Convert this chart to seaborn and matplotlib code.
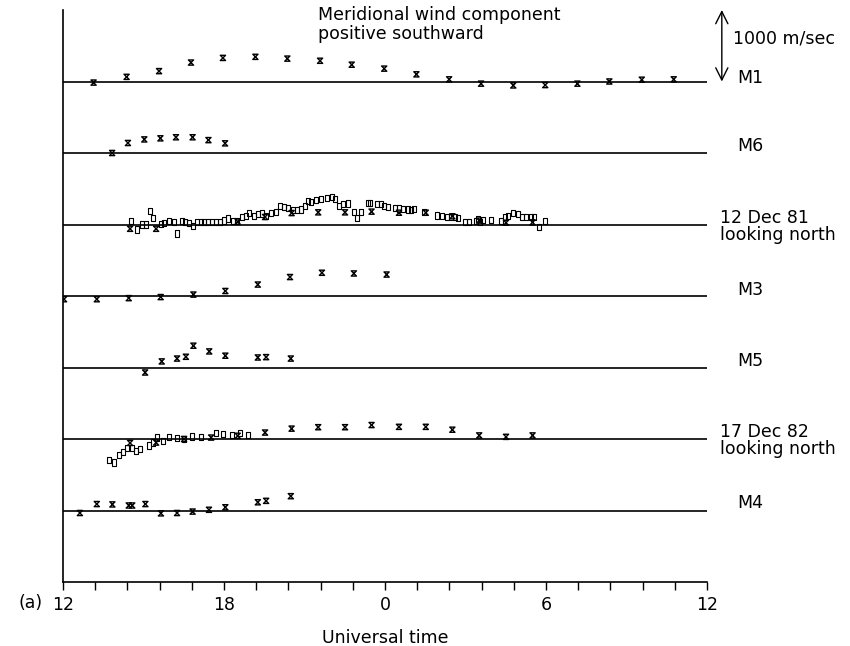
import numpy as np
import pandas as pd
import matplotlib
matplotlib.use("Agg")
import matplotlib.pyplot as plt
from matplotlib.path import Path
import seaborn as sns

# ---- data: universal time (hours, continuing past 24) and meridional wind (m/s, + southward)
m1_t = [13.14, 14.37, 15.58, 16.77, 17.96, 19.17, 20.36, 21.58, 22.76, 23.97,
        25.17, 26.39, 27.58, 28.78, 29.97, 31.17, 32.36, 33.57, 34.76]
m1_v = [-15, 65, 145, 265, 330, 345, 320, 290, 235, 180,
        100, 30, -30, -55, -50, -30, 0, 25, 30]

m6_t = [13.83, 14.42, 15.03, 15.63, 16.21, 16.83, 17.42, 18.04]
m6_v = [0, 140, 190, 205, 220, 220, 180, 135]

dec81_sq_t = [14.53, 14.76, 14.96, 15.10, 15.23, 15.35, 15.64, 15.78, 15.94, 16.14,
              16.25, 16.45, 16.55, 16.70, 16.86, 16.98, 17.13, 17.25, 17.40, 17.55,
              17.70, 17.85, 17.99, 18.14, 18.34, 18.47, 18.67, 18.81, 18.94, 19.12,
              19.27, 19.40, 19.58, 19.75, 19.94, 20.10, 20.24, 20.40, 20.57, 20.73,
              20.88, 21.02, 21.12, 21.25, 21.44, 21.60, 21.83, 22.01, 22.14, 22.27,
              22.45, 22.62, 22.84, 22.95, 23.12, 23.36, 23.45, 23.71, 23.84, 23.96,
              24.11, 24.36, 24.52, 24.66, 24.85, 24.97, 25.08, 25.44, 25.94, 26.12,
              26.32, 26.45, 26.62, 26.73, 26.99, 27.14, 27.38, 27.48, 27.55, 27.66,
              27.95, 28.32, 28.47, 28.57, 28.76, 28.96, 29.11, 29.26, 29.45, 29.55,
              29.74, 29.96]
dec81_sq_v = [50, -70, 0, 0, 190, 90, 10, 20, 50, 30,
              -125, 50, 30, 20, -20, 30, 40, 30, 40, 35,
              30, 40, 55, 85, 50, 50, 110, 120, 160, 120,
              150, 155, 120, 160, 180, 260, 240, 230, 205, 200,
              210, 260, 330, 320, 340, 355, 370, 390, 355, 255,
              290, 295, 175, 90, 180, 300, 305, 290, 290, 260,
              240, 230, 225, 220, 210, 200, 220, 170, 125, 120,
              100, 110, 100, 95, 40, 40, 45, 80, 40, 60,
              60, 50, 110, 115, 160, 150, 110, 100, 110, 110,
              -40, 50]

dec81_x_t = [14.50, 15.47, 18.51, 19.53, 20.52, 21.51, 22.51, 23.50,
             24.52, 25.52, 26.51, 27.51, 28.51, 29.50]
dec81_x_v = [-60, -60, 40, 105, 160, 170, 170, 180,
             165, 165, 115, 55, 25, 30]

m3_t = [12.04, 13.26, 14.45, 15.64, 16.86, 18.05, 19.26, 20.46, 21.65, 22.84, 24.06]
m3_v = [-45, -45, -30, -15, 20, 70, 160, 265, 325, 315, 300]

m5_t = [15.06, 15.68, 16.25, 16.58, 16.86, 17.45, 18.05, 19.26, 19.57, 20.49]
m5_v = [-70, 85, 125, 150, 305, 225, 165, 140, 145, 125]

dec82_sq_t = [13.73, 13.89, 14.08, 14.22, 14.40, 14.56, 14.72, 14.88, 15.19, 15.35,
              15.51, 15.74, 15.95, 16.25, 16.51, 16.81, 17.13, 17.71, 17.97, 18.30,
              18.61, 18.89]
dec82_sq_v = [-295, -330, -220, -180, -125, -130, -165, -140, -90, -50,
              20, -25, 30, 10, 0, 35, 30, 80, 75, 55,
              85, 55]

dec82_x_t = [14.50, 15.47, 16.51, 17.52, 18.51, 19.53, 20.52, 21.51,
             22.51, 23.50, 24.52, 25.52, 26.51, 27.51, 28.51, 29.50]
dec82_x_v = [-55, -50, 0, 20, 45, 90, 145, 165,
             165, 195, 170, 170, 130, 50, 30, 50]

m4_t = [12.63, 13.26, 13.84, 14.45, 14.58, 15.07, 15.65, 16.25, 16.83, 17.44,
        18.05, 19.26, 19.57, 20.49]
m4_v = [-35, 90, 85, 70, 70, 90, -40, -35, -15, 10,
        45, 115, 135, 200]

# stacked panels: each baseline sits 1000 m/s below the previous one
row_names = ["M1", "M6", "12 Dec 81", "M3", "M5", "17 Dec 82", "M4"]
row_offsets = [0, -1000, -2000, -3000, -4000, -5000, -6000]

tick_hours = np.arange(12, 36.001, 1.2)
major_labels = {12.0: "12", 18.0: "18", 24.0: "0", 30.0: "6", 36.0: "12"}

# ---- markers
hourglass = Path([(-1, 1), (1, 1), (-1, -1), (1, -1), (-1, 1)],
                 [Path.MOVETO, Path.LINETO, Path.LINETO, Path.LINETO, Path.CLOSEPOLY])
tall_box = Path([(-0.65, -1), (0.65, -1), (0.65, 1), (-0.65, 1), (-0.65, -1)],
                [Path.MOVETO, Path.LINETO, Path.LINETO, Path.LINETO, Path.CLOSEPOLY])

sns.set_style("white")
plt.rcParams["font.family"] = ["DejaVu Sans"]
plt.rcParams["font.size"] = 12.5
plt.rcParams["text.color"] = "black"
plt.rcParams["axes.labelcolor"] = "black"
plt.rcParams["xtick.color"] = "black"

fig = plt.figure(figsize=(8.5, 6.46), dpi=100)
ax = fig.add_axes([63 / 850, 1 - 582 / 646, 644 / 850, 572 / 646])


def build(t, v, offset, kind):
    return pd.DataFrame({"t": t, "y": np.asarray(v, float) + offset, "kind": kind})


series = [
    build(m1_t, m1_v, row_offsets[0], "x"),
    build(m6_t, m6_v, row_offsets[1], "x"),
    build(dec81_sq_t, dec81_sq_v, row_offsets[2], "sq"),
    build(dec81_x_t, dec81_x_v, row_offsets[2], "x"),
    build(m3_t, m3_v, row_offsets[3], "x"),
    build(m5_t, m5_v, row_offsets[4], "x"),
    build(dec82_sq_t, dec82_sq_v, row_offsets[5], "sq"),
    build(dec82_x_t, dec82_x_v, row_offsets[5], "x"),
    build(m4_t, m4_v, row_offsets[6], "x"),
]
df = pd.concat(series, ignore_index=True)

for off in row_offsets:
    ax.axhline(off, color="black", lw=1.2, zorder=1)

sns.scatterplot(data=df[df.kind == "sq"], x="t", y="y", marker=tall_box, s=20,
                facecolor="none", edgecolor="black", linewidth=0.8, ax=ax,
                legend=False, zorder=3)
sns.scatterplot(data=df[df.kind == "x"], x="t", y="y", marker=hourglass, s=14,
                facecolor="none", edgecolor="black", linewidth=1.0, ax=ax,
                legend=False, zorder=4)

ax.set_xlim(12, 36)
ax.set_ylim(-7000, 1000)
ax.set_yticks([])
ax.set_ylabel("")
ax.set_xticks(tick_hours)
ax.set_xticklabels([major_labels.get(round(h, 1), "") for h in tick_hours])
ax.tick_params(axis="x", bottom=True, direction="out", length=5.8, width=1.0,
               pad=4, color="black", labelcolor="black", labelsize=12.5)
ax.set_xlabel("Universal time", labelpad=11, fontsize=12.5)
for side in ("top", "right"):
    ax.spines[side].set_visible(False)
for side in ("left", "bottom"):
    ax.spines[side].set_color("black")
    ax.spines[side].set_linewidth(1.2)

# row labels on the right
ty = ax.get_yaxis_transform()
label_pos = {
    "M1": (1.047, 45), "M6": (1.047, 95), "M3": (1.047, 90),
    "M5": (1.047, 95), "M4": (1.047, 105),
}
for name, off in zip(row_names, row_offsets):
    if name in label_pos:
        x, dy = label_pos[name]
        ax.text(x, off + dy, name, transform=ty, ha="left", va="center",
                clip_on=False)
    else:
        ax.text(1.020, off + 95, name, transform=ty, ha="left", va="center",
                clip_on=False)
        ax.text(1.020, off - 140, "looking north", transform=ty, ha="left",
                va="center", clip_on=False)

# scale arrow: 1000 m/s
ax.annotate("", xy=(1.023, 0), xytext=(1.023, 1000), xycoords=ty, textcoords=ty,
            arrowprops=dict(arrowstyle="<->,head_length=0.7,head_width=0.35",
                            color="black", lw=1.0, shrinkA=0, shrinkB=0),
            annotation_clip=False)
ax.text(1.040, 595, "1000 m/sec", transform=ty, ha="left", va="center",
        clip_on=False)

ax.text(0.396, 0.991, "Meridional wind component", transform=ax.transAxes,
        ha="left", va="center")
ax.text(0.396, 0.958, "positive southward", transform=ax.transAxes,
        ha="left", va="center")

ax.text(-0.051, -0.0367, "(a)", transform=ax.transAxes, ha="center", va="center")

fig.savefig("out.png", dpi=100)
